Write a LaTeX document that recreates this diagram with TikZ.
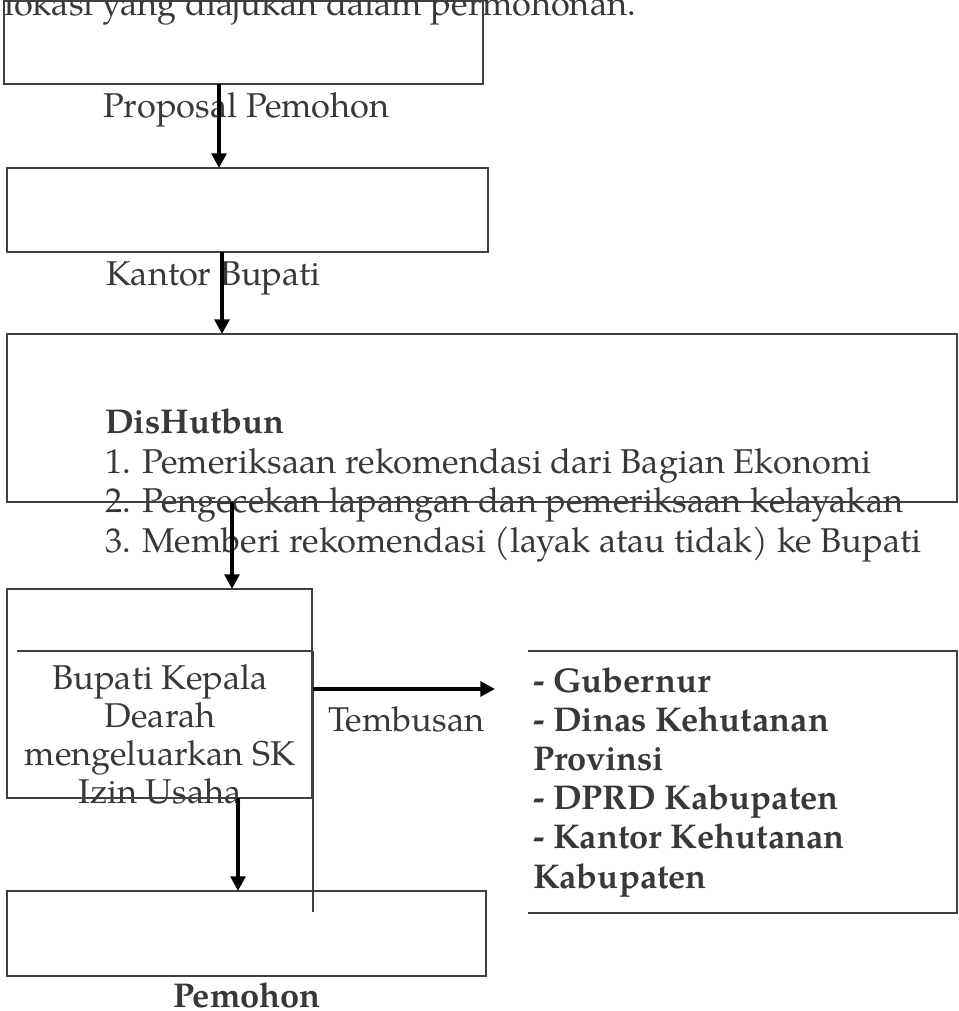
\documentclass[tikz,border=0pt]{standalone}
\usepackage{fontspec}
\setmainfont{TeX Gyre Pagella}
\usetikzlibrary{arrows.meta,fit}
\definecolor{txtgray}{HTML}{383838}
\definecolor{boxgray}{HTML}{404040}
\tikzset{
  boxline/.style={draw=boxgray, line width=1.2pt},
  thickline/.style={draw=boxgray, line width=2.2pt},
  area/.style={inner sep=0pt, outer sep=0pt},
  arr/.style={draw=black, line width=2.8pt, -{Triangle[length=11pt,width=11pt]}},
  lbl/.style={text=txtgray, inner sep=0pt, outer sep=0pt, font=\fontsize{25.8}{29.6}\selectfont},
}
\begin{document}
\begin{tikzpicture}[x=0.75pt,y=-0.75pt]
\useasboundingbox (0,0) rectangle (958,1011);
% texts
\node[lbl, anchor=base west] (top) at (4,15) {lokasi yang diajukan dalam permohonan.};
\node[lbl, anchor=base west] (t1) at (103,117) {Proposal Pemohon};
\node[lbl, anchor=base west] (t2) at (106,285) {Kantor Bupati};
\node[lbl, anchor=base west, align=left] (t3) at (105,552)
  {\textbf{DisHutbun}\\
   1. Pemeriksaan rekomendasi dari Bagian Ekonomi\\
   2. Pengecekan lapangan dan pemeriksaan kelayakan\\
   3. Memberi rekomendasi (layak atau tidak) ke Bupati};
\node[lbl, anchor=base, align=center, font=\fontsize{25.8}{28.3}\selectfont] (t4) at (160,803)
  {Bupati Kepala\\ Dearah\\ mengeluarkan SK\\ Izin Usaha};
\node[lbl, anchor=base west] (t5) at (328,731) {Tembusan};
\node[lbl, anchor=base west, align=left, font=\fontsize{25.8}{29.3}\selectfont\bfseries] (t6) at (533,888)
  {- Gubernur\\ - Dinas Kehutanan\\ Provinsi\\ - DPRD Kabupaten\\ - Kantor Kehutanan\\ Kabupaten};
\node[lbl, anchor=base, font=\fontsize{25.8}{29.6}\selectfont\bfseries] (t7) at (247,1007) {Pemohon};
% box corners
\coordinate (b1a) at (4,1);     \coordinate (b1b) at (483,84);
\coordinate (b2a) at (7,168);   \coordinate (b2b) at (488,252);
\coordinate (b3a) at (7,334);   \coordinate (b3b) at (957,502);
\coordinate (b4a) at (7,589);   \coordinate (b4b) at (312,798);
\coordinate (tba) at (17,651);  \coordinate (tbb) at (313,912);
\coordinate (rba) at (528,651); \coordinate (rbb) at (957,913);
\coordinate (b5a) at (7,891);   \coordinate (b5b) at (486,976);
\node[area, boxline, fit=(b1a)(b1b)] (b1) {};
\node[area, boxline, fit=(b2a)(b2b)] (b2) {};
\node[area, boxline, fit=(b3a)(b3b)] (b3) {};
\node[area, boxline, fit=(b4a)(b4b)] (b4) {};
\node[area, fit=(tba)(tbb)] (tb) {};
\node[area, fit=(rba)(rbb)] (rb) {};
\node[area, boxline, fit=(b5a)(b5b)] (b5) {};
\draw[thickline] (tb.north west) -- (tb.north east);
\draw[boxline] (tb.north east) -- (tb.south east);
\draw[thickline] (rb.north west) -- (rb.north east) -- (rb.south east) -- (rb.south west);
% arrow x positions
\coordinate (x1) at (219,0);
\coordinate (x2) at (222,0);
\coordinate (x3) at (232,0);
\coordinate (x4) at (238,0);
\coordinate (tip) at (495,689);
\draw[arr] (b1.south -| x1) -- (b2.north -| x1);
\draw[arr] (b2.south -| x2) -- (b3.north -| x2);
\draw[arr] (b3.south -| x3) -- (b4.north -| x3);
\draw[arr] (b4.south -| x4) -- (b5.north -| x4);
\draw[arr] (tb.east |- tip) -- (tip);
\end{tikzpicture}
\end{document}
